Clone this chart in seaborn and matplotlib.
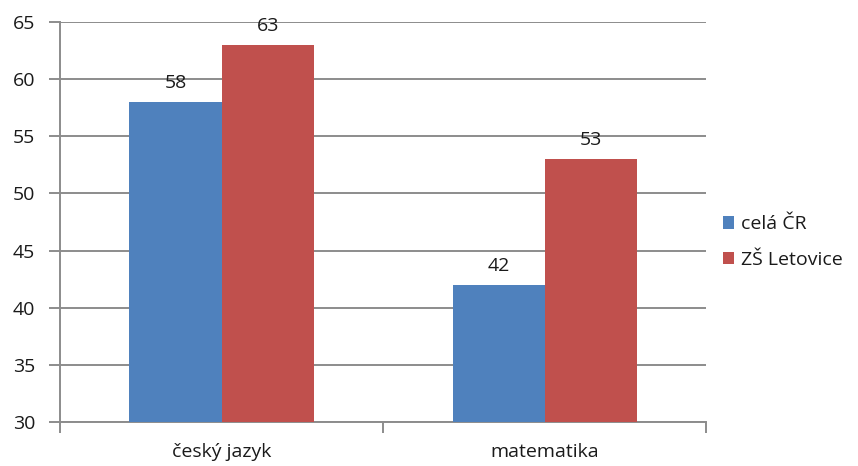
import pandas as pd
import seaborn as sns
import matplotlib.pyplot as plt

# data
predmety = ["český jazyk", "matematika"]
cela_cr = [58, 42]
zs_letovice = [63, 53]
serie = ["celá ČR", "ZŠ Letovice"]

df = pd.DataFrame({
    "predmet": predmety * 2,
    "skupina": [serie[0]] * 2 + [serie[1]] * 2,
    "hodnota": cela_cr + zs_letovice,
})

sns.set_style("white")
plt.rcParams['font.family'] = ['Open Sans', 'DejaVu Sans']

fig = plt.figure(figsize=(8.58, 4.66), dpi=100)
ax = fig.add_axes([0.0699, 0.0944, 0.7535, 0.8584])

barvy = ["#4F81BD", "#C0504D"]
sns.barplot(data=df, x="predmet", y="hodnota", hue="skupina", palette=barvy,
            width=0.57, saturation=1, linewidth=0, ax=ax, zorder=3)

for c in ax.containers:
    ax.bar_label(c, fontsize=14, padding=7, color="#1a1a1a")

ax.set_ylim(30, 65)
ax.set_yticks(range(30, 66, 5))
ax.set_xlim(-0.5, 1.5)
ax.yaxis.grid(True, color="#8c8c8c", linewidth=1.4, zorder=0)
ax.set_xlabel("")
ax.set_ylabel("")

for s in ["top", "right"]:
    ax.spines[s].set_visible(False)
for s in ["left", "bottom"]:
    ax.spines[s].set_color("#8c8c8c")
    ax.spines[s].set_linewidth(1.4)

ax.set_xticks([-0.5, 0.5, 1.5], minor=False)
ax.set_xticklabels(["", "", ""])
ax.set_xticks([0, 1], minor=True)
ax.set_xticklabels(predmety, minor=True, fontsize=14)
ax.tick_params(axis="x", which="major", length=8, color="#8c8c8c", width=1.4, bottom=True)
ax.tick_params(axis="x", which="minor", length=0, pad=15, labelcolor="#1a1a1a")
ax.tick_params(axis="y", length=8, color="#8c8c8c", width=1.4, left=True, labelsize=14,
               pad=10, labelcolor="#1a1a1a")

leg = ax.legend(loc="center left", bbox_to_anchor=(0.998, 0.45), frameon=False,
                fontsize=14, handlelength=0.6, handleheight=0.6, handletextpad=0.35,
                labelspacing=0.9)
for t in leg.get_texts():
    t.set_color("#1a1a1a")

fig.savefig("out.png", dpi=100)
